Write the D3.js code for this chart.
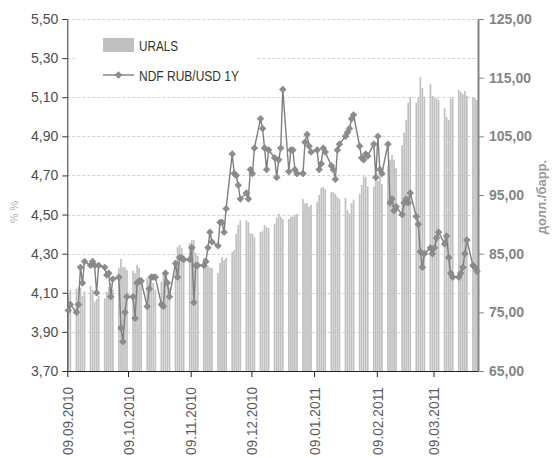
<!DOCTYPE html>
<html>
<head>
<meta charset="utf-8">
<script src="https://cdn.jsdelivr.net/npm/d3@7"></script>
<style>
  body { margin: 0; background: #fff; }
  text { font-family: "Liberation Sans", Arial, sans-serif; }
</style>
</head>
<body>
<div id="chart"></div>
<script>
// trading days run Mon-Fri from firstDay to lastDay
const firstDay = '2010-09-09';
const lastDay = '2011-03-30';

const leftTicks = [3.7, 3.9, 4.1, 4.3, 4.5, 4.7, 4.9, 5.1, 5.3, 5.5];
const rightTicks = [65, 75, 85, 95, 105, 115, 125];
const dateTicks = ['09.09.2010', '09.10.2010', '09.11.2010', '09.12.2010', '09.01.2011', '09.02.2011', '09.03.2011'];
const seriesNames = ['URALS', 'NDF RUB/USD 1Y'];

// NDF RUB/USD 1Y, % (left axis), one value per trading day, one row per week
const ndf = [
  4.01, 4.04,
  4.00, 4.04, 4.23, 4.15, 4.26,
  4.24, 4.26, 4.24, 4.10, 4.24,
  4.23, 4.19, 4.20, 4.08, 4.17,
  4.18, 3.92, 3.85, 4.00, 4.08,
  4.08, 3.97, 4.15, 4.16, 4.16,
  4.03, 4.12, 4.18, 4.18, 4.18,
  4.04, 4.03, 4.20, 4.15, 4.08,
  4.25, 4.18, 4.28, 4.28, 4.27,
  4.27, 4.33, 4.05, 4.24, 4.24,
  4.24, 4.26, 4.33, 4.41, 4.36,
  4.34, 4.46, 4.46, 4.41, 4.53,
  4.81, 4.71, 4.70, 4.65, 4.58,
  4.61, 4.58, 4.73, 4.71, 4.84,
  4.99, 4.94, 4.84, 4.73, 4.83,
  4.79, 4.69, 4.78, 4.84, 5.14,
  4.72, 4.83, 4.83, 4.73, 4.71,
  4.71, 4.87, 4.91, 4.85, 4.82,
  4.83, 4.73, 4.76, 4.84, 4.82,
  4.75, 4.73, 4.68, 4.83, 4.86,
  4.90, 4.92, 4.94, 4.99, 5.01,
  4.85, 4.79, 4.78, 4.81, 4.80,
  4.86, 4.69, 4.90, 4.73, 4.71,
  4.86, 4.56, 4.58, 4.52, 4.54,
  4.50, 4.56, 4.58, 4.56, 4.61,
  4.49, 4.45, 4.31, 4.23, 4.30,
  4.33, 4.30, 4.33, 4.38, 4.41,
  4.35, 4.39, 4.28, 4.20, 4.18,
  4.18, 4.20, 4.23, 4.30, 4.37,
  4.24, 4.23, 4.21
];

// URALS, USD/bbl (right axis)
const urals = [
  78.0, 78.8,
  79.0, 79.3, 79.2, 77.8, 78.6,
  79.5, 78.8, 76.8, 77.3, 77.8,
  77.4, 78.5, 79.3, 80.0, 78.8,
  82.6, 84.1, 82.7, 82.7, 82.2,
  82.1, 81.7, 83.1, 82.6, 81.0,
  80.9, 80.7, 80.3, 80.0, 78.8,
  80.2, 81.7, 81.0, 80.0, 79.3,
  83.9, 86.1, 86.5, 86.0, 84.4,
  86.8, 87.3, 87.3, 85.1, 84.6,
  84.3, 83.6, 82.9, 82.6, 82.6,
  81.7, 83.4, 84.4, 83.9, 84.3,
  85.3, 85.6, 88.4, 89.9, 90.7,
  90.7, 90.4, 88.5, 88.4, 87.8,
  88.7, 88.9, 89.9, 89.5, 89.4,
  90.1, 91.1, 91.8, 91.3, 90.9,
  90.9, 91.3, 91.3, 91.6, 91.8,
  94.3, 93.6, 93.6, 93.0, 93.3,
  93.8, 95.0, 96.2, 96.4, 96.0,
  95.5, 95.5, 95.2, 94.7, 94.3,
  94.5, 92.4, 91.9, 93.6, 94.2,
  95.2, 96.7, 98.2, 98.1, 96.5,
  96.4, 97.9, 97.4, 98.2, 96.9,
  99.9, 101.0, 101.8, 101.0, 99.6,
  103.5, 105.6, 107.8, 110.7, 111.7,
  110.7, 111.7, 115.1, 113.2, 111.7,
  113.9, 111.9, 111.5, 111.5, 111.2,
  109.8, 108.3, 107.8, 111.5, 111.5,
  112.9, 112.6, 112.2, 112.7, 111.9,
  111.7, 111.5, 111.2
];

const width = 554;
const height = 458;
const plotLeft = 67.3, plotRight = 478, plotTop = 19, plotBottom = 371;

const parseDay = d3.utcParse('%Y-%m-%d');
const parseTick = d3.utcParse('%d.%m.%Y');
const start = parseDay(firstDay);
const end = d3.utcDay.offset(parseDay(lastDay), 1);

const days = d3.utcDay.range(start, end)
  .filter(d => d.getUTCDay() !== 0 && d.getUTCDay() !== 6);

const data = days.map((d, i) => ({ date: d, ndf: ndf[i], urals: urals[i] }));

const x = d3.scaleUtc().domain([start, end]).range([plotLeft, plotRight]);
const dayW = x(d3.utcDay.offset(start, 1)) - x(start);
const yL = d3.scaleLinear().domain([3.7, 5.5]).range([plotBottom, plotTop]);
const yR = d3.scaleLinear().domain([65, 125]).range([plotBottom, plotTop]);

const comma = d3.format('.2f');
const fmt = v => comma(v).replace('.', ',');

const svg = d3.select('#chart')
  .append('svg')
  .attr('width', width)
  .attr('height', height)
  .style('background', '#fff');

// dashed grid on the left-axis ticks
svg.append('g')
  .selectAll('line')
  .data(leftTicks.filter(t => t > 3.7))
  .enter().append('line')
  .attr('x1', plotLeft)
  .attr('x2', plotRight)
  .attr('y1', d => Math.round(yL(d)) + 0.5)
  .attr('y2', d => Math.round(yL(d)) + 0.5)
  .attr('stroke', '#d2d2d2')
  .attr('stroke-dasharray', '3,2');

// URALS bars
svg.append('g')
  .selectAll('rect')
  .data(data)
  .enter().append('rect')
  .attr('x', d => x(d.date) + dayW / 2 - 0.85)
  .attr('width', 1.7)
  .attr('y', d => yR(d.urals))
  .attr('height', d => plotBottom - yR(d.urals))
  .attr('fill', '#c0c0c0');

// legend background hides the grid behind it
svg.append('rect')
  .attr('x', 76).attr('y', 27)
  .attr('width', 180).attr('height', 62)
  .attr('fill', '#fff');

// left axis
const axL = svg.append('g')
  .attr('transform', `translate(${plotLeft},0)`)
  .call(d3.axisLeft(yL).tickValues(leftTicks).tickFormat(fmt).tickSize(5).tickSizeOuter(0).tickPadding(4));
axL.select('.domain').attr('stroke', '#333');
axL.selectAll('.tick line').attr('stroke', '#333');
axL.selectAll('text').attr('fill', '#4d4d4d').style('font-size', '14px');

// right axis
const axR = svg.append('g')
  .attr('transform', `translate(${plotRight},0)`)
  .call(d3.axisRight(yR).tickValues(rightTicks).tickFormat(fmt).tickSize(6).tickSizeOuter(0).tickPadding(5));
axR.select('.domain').attr('stroke', '#858585').attr('stroke-width', 2);
axR.selectAll('.tick line').attr('stroke', '#858585');
axR.selectAll('text').attr('fill', '#858585').style('font-size', '14px').style('font-weight', 'bold');

// bottom axis
const axB = svg.append('g')
  .attr('transform', `translate(0,${plotBottom})`)
  .call(d3.axisBottom(x).tickValues(dateTicks.map(parseTick)).tickFormat(d3.utcFormat('%d.%m.%Y')).tickSize(6).tickSizeOuter(0));
axB.select('.domain').attr('stroke', '#222').attr('d', `M${plotLeft},0.5H${plotRight}`);
axB.selectAll('.tick line').attr('stroke', '#222');
axB.selectAll('text')
  .attr('transform', 'rotate(-90)')
  .attr('x', -16)
  .attr('y', 0)
  .attr('dy', '0.35em')
  .attr('textLength', 68)
  .attr('lengthAdjust', 'spacingAndGlyphs')
  .style('text-anchor', 'end')
  .style('font-size', '15px')
  .attr('fill', '#5a5a5a');

svg.selectAll('.domain').attr('fill', 'none');

// axis titles
svg.append('text')
  .attr('transform', 'translate(18,212) rotate(-90)')
  .attr('text-anchor', 'middle')
  .style('font-size', '11px')
  .attr('fill', '#b0b0b0')
  .text('% %');

svg.append('text')
  .attr('transform', 'translate(546,197) rotate(-90)')
  .attr('text-anchor', 'middle')
  .style('font-size', '13px')
  .style('font-weight', 'bold')
  .attr('fill', '#999')
  .text('долл./барр.');

// NDF line with diamond markers
const line = d3.line()
  .x(d => x(d.date) + dayW / 2)
  .y(d => yL(d.ndf));

svg.append('path')
  .datum(data)
  .attr('fill', 'none')
  .attr('stroke', '#7f7f7f')
  .attr('stroke-width', 1.4)
  .attr('d', line);

const diamond = d3.symbol().type(d3.symbolDiamond2).size(30);

svg.append('g')
  .selectAll('path')
  .data(data)
  .enter().append('path')
  .attr('transform', d => `translate(${x(d.date) + dayW / 2},${yL(d.ndf)})`)
  .attr('d', diamond)
  .attr('fill', '#8c8c8c')
  .attr('stroke', '#7a7a7a')
  .attr('stroke-width', 0.5);

// legend
const legend = svg.append('g');
legend.append('rect')
  .attr('x', 103).attr('y', 38)
  .attr('width', 31).attr('height', 14)
  .attr('fill', '#c0c0c0');
legend.append('text')
  .attr('x', 139).attr('y', 51)
  .attr('textLength', 39)
  .attr('lengthAdjust', 'spacingAndGlyphs')
  .style('font-size', '15px')
  .attr('fill', '#333')
  .text(seriesNames[0]);
legend.append('line')
  .attr('x1', 103).attr('x2', 134)
  .attr('y1', 75).attr('y2', 75)
  .attr('stroke', '#7f7f7f')
  .attr('stroke-width', 1.4);
legend.append('path')
  .attr('transform', 'translate(118.5,75)')
  .attr('d', diamond)
  .attr('fill', '#8c8c8c')
  .attr('stroke', '#7a7a7a')
  .attr('stroke-width', 0.5);
legend.append('text')
  .attr('x', 139).attr('y', 81)
  .attr('textLength', 100)
  .attr('lengthAdjust', 'spacingAndGlyphs')
  .style('font-size', '15px')
  .attr('fill', '#333')
  .text(seriesNames[1]);
</script>
</body>
</html>
